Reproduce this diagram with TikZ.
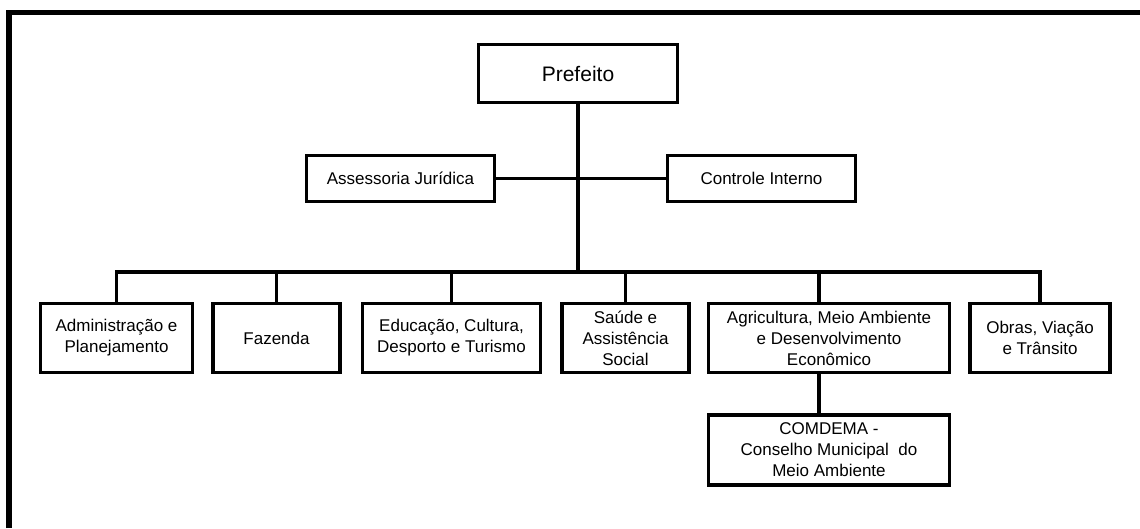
\documentclass[tikz,border=0pt]{standalone}
\usepackage{fontspec}
\setmainfont{Liberation Sans}
\usetikzlibrary{positioning,calc}
\tikzset{
  % secretariat box
  unit/.style  = {rectangle, draw=black, line width=3.5pt, fill=white,
                  align=center, inner sep=2pt, minimum height=69pt,
                  font=\fontsize{17}{21}\selectfont},
  % advisory box (middle row)
  adv/.style   = {unit, minimum width=188pt, minimum height=46pt},
  % plain org-chart line
  link/.style  = {line width=3.5pt, black},
  % outer frame
  frame/.style = {line width=5.5pt, black},
}

\begin{document}
\begin{tikzpicture}[x=1pt, y=1pt, line join=miter]

  \useasboundingbox (0,0) rectangle (1140,-528);

  % --- outer frame (top and left only) ---
  \draw[frame] (9,-528) -- (9,-12.5) -- (1140,-12.5);

  % --- top: mayor ---
  \node[unit, minimum width=199pt, minimum height=58pt,
        font=\fontsize{21}{25}\selectfont] (pref) at (578,-73.5) {Prefeito};

  % --- advisory row ---
  \node[adv] (asj)  at (400.5,-178.5) {Assessoria Jurídica};
  \node[adv] (ctrl) at (761.5,-178.5) {Controle Interno};

  % --- secretariats ---
  \node[unit, minimum width=152pt] (adm) at (116.5,-338)
       {Administração e\\Planejamento};
  \node[unit, minimum width=127pt, right=17pt of adm] (faz) {Fazenda};
  \node[unit, minimum width=178pt, right=19pt of faz] (edu)
       {Educação, Cultura,\\Desporto e Turismo};
  \node[unit, minimum width=127pt, right=18pt of edu] (sau)
       {Saúde e\\Assistência\\Social};
  \node[unit, minimum width=241pt, right=16pt of sau] (agr)
       {Agricultura, Meio Ambiente\\e Desenvolvimento\\Econômico};
  \node[unit, minimum width=140pt, right=17pt of agr] (obr)
       {Obras, Viação\\e Trânsito};

  % council below agriculture
  \node[unit, minimum width=241pt, minimum height=70pt, below=39pt of agr] (comd)
       {COMDEMA -\\Conselho Municipal\ \ do\\Meio Ambiente};

  % --- lines ---
  \coordinate (hub) at (578,-272);
  \coordinate (agrin) at ($(agr.north)+(-10,0)$);

  \draw[link] (pref.south) -- (hub);
  \draw[link] (asj.east) -- (ctrl.west);

  % bus over the secretariats
  \draw[link] (adm.north) |- (hub) -| (obr.north);
  \draw[link] (faz.north) -- (faz.north |- hub);
  \draw[link] (edu.north) -- (edu.north |- hub);
  \draw[link] (sau.north) -- (sau.north |- hub);
  \draw[link] (agrin) -- (agrin |- hub);

  % agriculture -> council
  \draw[link] (agrin |- agr.south) -- (agrin |- comd.north);

\end{tikzpicture}
\end{document}
